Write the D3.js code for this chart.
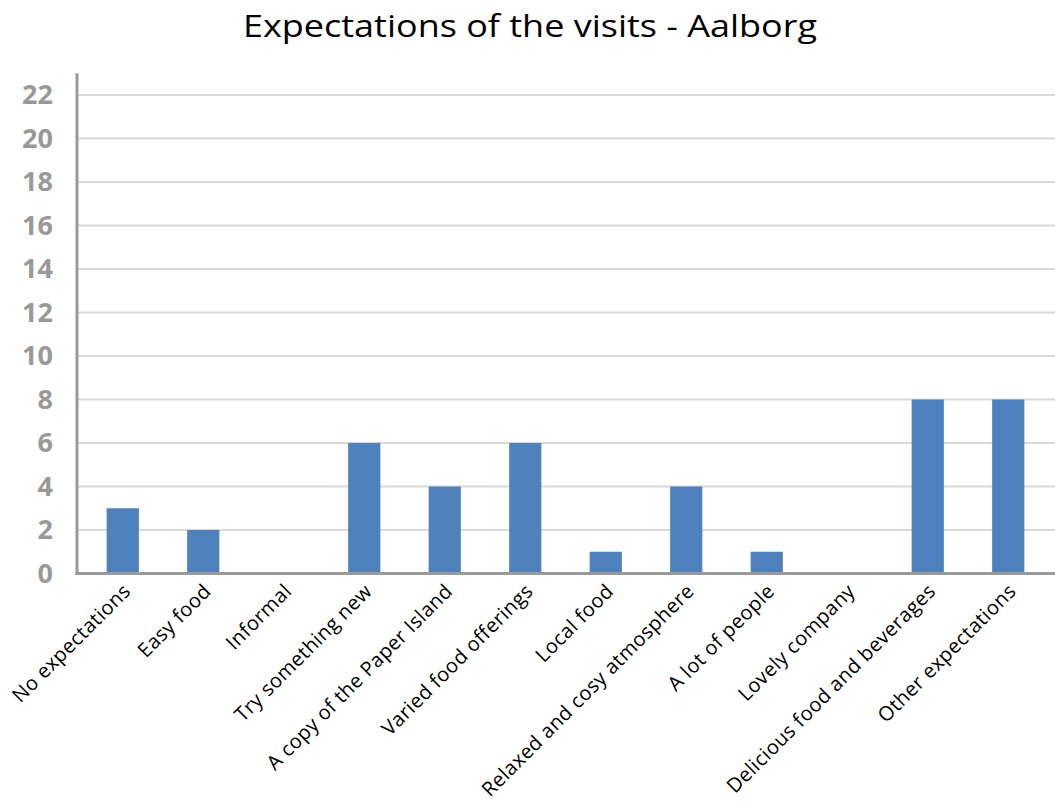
<!DOCTYPE html>
<html>
<head>
<meta charset="utf-8">
<script src="https://cdn.jsdelivr.net/npm/d3@7"></script>
<style>
  html, body { margin: 0; padding: 0; background: #fff; }
  svg { display: block; }
  text { font-family: "Open Sans", Lato, sans-serif; }
</style>
</head>
<body>
<svg id="chart" width="1055" height="801"></svg>
<script>
// Survey answers: how many visitors gave each expectation
const categories = [
  "No expectations", "Easy food", "Informal", "Try something new",
  "A copy of the Paper Island", "Varied food offerings", "Local food",
  "Relaxed and cosy atmosphere", "A lot of people", "Lovely company",
  "Delicious food and beverages", "Other expectations"
];
const counts = [3, 2, 0, 6, 4, 6, 1, 4, 1, 0, 8, 8];
const yTicks = [0, 2, 4, 6, 8, 10, 12, 14, 16, 18, 20, 22];
const chartTitle = "Expectations of the visits - Aalborg";

const svg = d3.select("#chart");

const axisX = 77, plotRight = 1055;
const y = d3.scaleLinear().domain([0, 23]).range([573.5, 73.3]);
const x = d3.scaleBand().domain(categories).range([82.5, 1048.5]).paddingInner(0.6).paddingOuter(0.3);

// Title, widened horizontally to span the chart header
const title = svg.append("text")
  .attr("x", 0).attr("y", 0)
  .attr("text-anchor", "middle")
  .attr("font-size", 31)
  .attr("fill", "#000")
  .text(chartTitle);
const natural = title.node().getComputedTextLength();
const sx = 574 / natural;
title.attr("transform", `translate(530,37) scale(${sx},1)`);

// Horizontal gridlines
svg.append("g")
  .selectAll("line")
  .data(yTicks.filter(d => d > 0))
  .join("line")
  .attr("x1", axisX).attr("x2", plotRight)
  .attr("y1", d => y(d)).attr("y2", d => y(d))
  .attr("stroke", "#d9d9d9")
  .attr("stroke-width", 2);

// Bars
svg.append("g")
  .selectAll("rect")
  .data(counts)
  .join("rect")
  .attr("x", (d, i) => x(categories[i]))
  .attr("width", x.bandwidth())
  .attr("y", d => y(d))
  .attr("height", d => y(0) - y(d))
  .attr("fill", "#4f81bd");

// Y axis with bold grey labels
const yAxis = d3.axisLeft(y).tickValues(yTicks).tickSize(0).tickPadding(24);
const gy = svg.append("g").attr("transform", `translate(${axisX},0)`).call(yAxis);
gy.select(".domain").remove();
gy.selectAll("text")
  .attr("font-size", 27)
  .attr("font-weight", "bold")
  .attr("fill", "#999")
  .attr("font-family", "'Open Sans', sans-serif");

svg.append("line")
  .attr("x1", axisX).attr("x2", axisX)
  .attr("y1", y(23)).attr("y2", y(0) + 1.5)
  .attr("stroke", "#999").attr("stroke-width", 3);

// X axis line and rotated category labels
const xAxis = d3.axisBottom(x).tickSize(0).tickPadding(0);
const gx = svg.append("g").attr("transform", `translate(0,${y(0)})`).call(xAxis);
gx.select(".domain").remove();
gx.selectAll("text")
  .attr("font-size", 20)
  .attr("letter-spacing", 0.4)
  .attr("fill", "#000")
  .attr("font-family", "'Open Sans', sans-serif")
  .attr("text-anchor", "end")
  .attr("dy", null)
  .attr("y", null)
  .attr("transform", "translate(9,19) rotate(-45)");

svg.append("line")
  .attr("x1", axisX - 1.5).attr("x2", plotRight)
  .attr("y1", y(0)).attr("y2", y(0))
  .attr("stroke", "#999").attr("stroke-width", 3);
</script>
</body>
</html>
